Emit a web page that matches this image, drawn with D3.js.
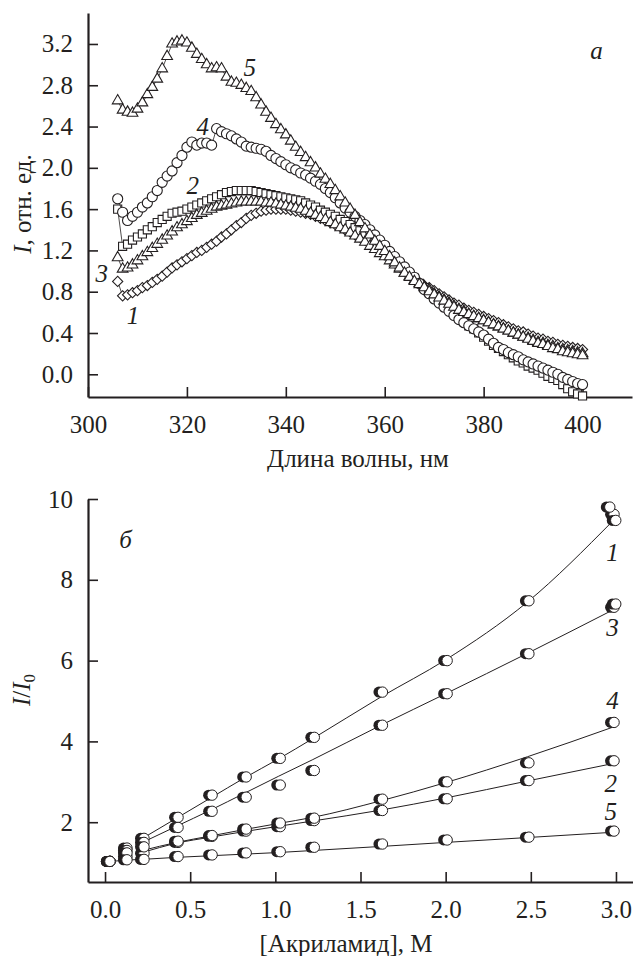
<!DOCTYPE html>
<html>
<head>
<meta charset="utf-8">
<script src="https://cdn.jsdelivr.net/npm/d3@7"></script>
<style>
  body { margin: 0; background: #fff; }
  svg text { font-family: "Liberation Serif", "Times New Roman", serif; fill: #231f20; }
</style>
</head>
<body>
<div id="chart"></div>
<script>
// ---- panel a: emission spectra, 306..400 nm, 1 nm step ----
const wavelengths = d3.range(306, 401);

const spec1 = [
  0.90, 0.76, 0.77, 0.79, 0.81, 0.84, 0.86, 0.89, 0.92, 0.95,
  0.99, 1.03, 1.06, 1.09, 1.12, 1.15, 1.18, 1.20, 1.23, 1.26,
  1.29, 1.33, 1.36, 1.40, 1.44, 1.47, 1.51, 1.54, 1.56, 1.58,
  1.59, 1.60, 1.60, 1.60, 1.60, 1.59, 1.58, 1.57, 1.56, 1.55,
  1.53, 1.51, 1.49, 1.47, 1.45, 1.43, 1.40, 1.38, 1.35, 1.33,
  1.30, 1.26, 1.23, 1.20, 1.16, 1.12, 1.08, 1.04, 1.00, 0.96,
  0.93, 0.89, 0.86, 0.84, 0.81, 0.78, 0.75, 0.72, 0.69, 0.67,
  0.64, 0.62, 0.60, 0.58, 0.56, 0.54, 0.52, 0.50, 0.48, 0.46,
  0.44, 0.42, 0.41, 0.39, 0.37, 0.35, 0.34, 0.32, 0.31, 0.29,
  0.28, 0.27, 0.26, 0.25, 0.24
];
const spec2 = [
  1.60, 1.24, 1.26, 1.30, 1.33, 1.36, 1.40, 1.43, 1.47, 1.50,
  1.53, 1.56, 1.57, 1.58, 1.60, 1.62, 1.64, 1.66, 1.68, 1.70,
  1.72, 1.74, 1.76, 1.77, 1.78, 1.78, 1.78, 1.78, 1.77, 1.76,
  1.75, 1.74, 1.73, 1.72, 1.71, 1.70, 1.69, 1.68, 1.66, 1.64,
  1.62, 1.59, 1.57, 1.55, 1.53, 1.50, 1.48, 1.45, 1.42, 1.39,
  1.36, 1.32, 1.28, 1.24, 1.20, 1.16, 1.12, 1.07, 1.02, 0.97,
  0.93, 0.88, 0.84, 0.79, 0.75, 0.71, 0.67, 0.63, 0.59, 0.55,
  0.51, 0.47, 0.44, 0.40, 0.36, 0.32, 0.28, 0.25, 0.22, 0.19,
  0.16, 0.13, 0.11, 0.08, 0.06, 0.04, 0.01, -0.02, -0.04, -0.06,
  -0.10, -0.14, -0.17, -0.19, -0.21
];
const spec3 = [
  1.13, 1.02, 1.03, 1.06, 1.10, 1.14, 1.18, 1.22, 1.26, 1.30,
  1.34, 1.38, 1.42, 1.45, 1.48, 1.51, 1.54, 1.56, 1.58, 1.60,
  1.62, 1.63, 1.64, 1.65, 1.66, 1.67, 1.67, 1.67, 1.67, 1.67,
  1.66, 1.66, 1.65, 1.64, 1.63, 1.62, 1.61, 1.60, 1.58, 1.56,
  1.54, 1.52, 1.50, 1.47, 1.45, 1.42, 1.40, 1.37, 1.34, 1.31,
  1.28, 1.24, 1.21, 1.17, 1.14, 1.10, 1.06, 1.02, 0.98, 0.95,
  0.91, 0.88, 0.85, 0.82, 0.78, 0.75, 0.72, 0.69, 0.66, 0.63,
  0.61, 0.58, 0.56, 0.54, 0.52, 0.50, 0.48, 0.46, 0.44, 0.42,
  0.40, 0.38, 0.36, 0.35, 0.33, 0.31, 0.30, 0.28, 0.27, 0.25,
  0.24, 0.23, 0.22, 0.21, 0.20
];
const spec4 = [
  1.70, 1.57, 1.49, 1.53, 1.57, 1.62, 1.66, 1.72, 1.78, 1.86,
  1.92, 1.97, 2.05, 2.12, 2.20, 2.25, 2.22, 2.24, 2.24, 2.22,
  2.38, 2.35, 2.33, 2.31, 2.28, 2.25, 2.21, 2.20, 2.19, 2.18,
  2.16, 2.12, 2.09, 2.06, 2.03, 2.00, 1.98, 1.95, 1.93, 1.90,
  1.87, 1.84, 1.80, 1.76, 1.71, 1.66, 1.61, 1.57, 1.53, 1.49,
  1.45, 1.40, 1.35, 1.30, 1.25, 1.19, 1.14, 1.09, 1.04, 0.99,
  0.94, 0.88, 0.82, 0.78, 0.73, 0.69, 0.65, 0.61, 0.57, 0.53,
  0.50, 0.47, 0.44, 0.41, 0.38, 0.34, 0.30, 0.26, 0.24, 0.21,
  0.19, 0.17, 0.14, 0.12, 0.10, 0.08, 0.06, 0.04, 0.02, 0.00,
  -0.03, -0.05, -0.07, -0.09, -0.10
];
const spec5 = [
  2.65, 2.56, 2.54, 2.53, 2.57, 2.63, 2.71, 2.78, 2.86, 2.96,
  3.08, 3.20, 3.22, 3.23, 3.21, 3.16, 3.10, 3.05, 3.00, 2.96,
  2.97, 2.96, 2.88, 2.83, 2.82, 2.80, 2.77, 2.74, 2.68, 2.61,
  2.54, 2.48, 2.42, 2.37, 2.32, 2.26, 2.20, 2.15, 2.10, 2.05,
  2.00, 1.94, 1.89, 1.84, 1.78, 1.72, 1.66, 1.60, 1.54, 1.47,
  1.41, 1.35, 1.29, 1.24, 1.19, 1.14, 1.08, 1.03, 0.98, 0.94,
  0.90, 0.87, 0.84, 0.80, 0.77, 0.74, 0.71, 0.68, 0.65, 0.62,
  0.60, 0.58, 0.56, 0.54, 0.52, 0.50, 0.48, 0.46, 0.44, 0.42,
  0.40, 0.38, 0.36, 0.34, 0.32, 0.30, 0.29, 0.27, 0.25, 0.24,
  0.22, 0.21, 0.20, 0.19, 0.18
];
const xTicksA = [300, 320, 340, 360, 380, 400];
const yTicksA = [0.0, 0.4, 0.8, 1.2, 1.6, 2.0, 2.4, 2.8, 3.2];

// ---- panel б: I/I0 vs acrylamide ----
const conc = [0.02, 0.12, 0.22, 0.42, 0.62, 0.82, 1.02, 1.22, 1.62, 2.0, 2.48, 2.98];
const ratio1 = [1.03, 1.36, 1.60, 2.12, 2.67, 3.12, 3.58, 4.10, 5.22, 6.00, 7.48, 9.62];
const ratio2 = [1.03, 1.15, 1.23, 1.50, 1.65, 1.78, 1.89, 2.04, 2.29, 2.58, 3.03, 3.52];
const ratio3 = [1.03, 1.30, 1.50, 1.87, 2.27, 2.62, 2.92, 3.28, 4.40, 5.18, 6.17, 7.32];
const ratio4 = [1.03, 1.24, 1.39, 1.53, 1.67, 1.83, 1.98, 2.10, 2.57, 3.00, 3.47, 4.47];
const ratio5 = [1.03, 1.07, 1.08, 1.15, 1.19, 1.24, 1.27, 1.38, 1.46, 1.56, 1.63, 1.78];
// extra replicate points at the highest concentration
const repConc = [2.955, 2.99, 2.99];
const repVal = [9.80, 9.47, 7.40];
// fitted curves, null where the line is not drawn
const fit1 = [null, null, 1.60, 2.10, 2.60, 3.10, 3.57, 4.07, 5.10, 6.02, 7.45, 9.45];
const fit2 = [null, null, 1.25, 1.48, 1.63, 1.77, 1.90, 2.03, 2.30, 2.60, 3.02, 3.45];
const fit3 = [null, null, 1.50, 1.90, 2.30, 2.72, 3.14, 3.55, 4.40, 5.18, 6.18, 7.25];
const fit4 = [null, null, 1.30, 1.50, 1.66, 1.82, 1.97, 2.12, 2.53, 2.98, 3.62, 4.35];
const fit5 = [1.02, 1.06, 1.08, 1.13, 1.17, 1.21, 1.25, 1.30, 1.40, 1.50, 1.62, 1.75];
const xTicksB = [0, 0.5, 1, 1.5, 2, 2.5, 3];
const yTicksB = [2, 4, 6, 8, 10];

const INK = '#231f20';
const FONT = 25;

const svg = d3.select('#chart').append('svg')
  .attr('width', 633)
  .attr('height', 956);

function style_axis (g) {
  g.attr('font-family', '"Liberation Serif", serif').attr('font-size', FONT);
  g.select('.domain').attr('stroke', INK).attr('stroke-width', 2.2);
  g.selectAll('.tick line').attr('stroke', INK).attr('stroke-width', 1.6);
  g.selectAll('.tick text').attr('fill', INK);
}

// ================= panel a =================
const xA = d3.scaleLinear().domain([300, 410]).range([88, 632]);
const yA = d3.scaleLinear().domain([-0.22, 3.5]).range([397, 13]);

svg.append('g')
  .attr('transform', 'translate(0, 397)')
  .call(d3.axisBottom(xA).tickValues(xTicksA).tickSizeInner(-10).tickSizeOuter(0).tickPadding(18))
  .call(style_axis);
svg.append('g')
  .attr('transform', 'translate(88, 0)')
  .call(d3.axisLeft(yA).tickValues(yTicksA).tickFormat(d3.format('.1f'))
    .tickSizeInner(-10).tickSizeOuter(0).tickPadding(15))
  .call(style_axis);

const spectra = [
  { values: spec1, symbol: d3.symbolSquare, size: 52, rotate: 45 },
  { values: spec2, symbol: d3.symbolSquare, size: 66, rotate: 0 },
  { values: spec3, symbol: d3.symbolTriangle, size: 50, rotate: 0 },
  { values: spec4, symbol: d3.symbolCircle, size: 80, rotate: 0 },
  { values: spec5, symbol: d3.symbolTriangle, size: 50, rotate: 0 }
];

const lineA = d3.line()
  .x((d) => xA(d[0]))
  .y((d) => yA(d[1]));

spectra.forEach((s) => {
  const pts = wavelengths.map((w, i) => [w, s.values[i]]);
  const g = svg.append('g');
  g.append('path')
    .datum(pts)
    .attr('d', lineA)
    .attr('fill', 'none')
    .attr('stroke', INK)
    .attr('stroke-width', 0.8);
  g.selectAll('path.mark')
    .data(pts)
    .join('path')
    .attr('class', 'mark')
    .attr('d', d3.symbol().type(s.symbol).size(s.size))
    .attr('transform', (d) => `translate(${xA(d[0])}, ${yA(d[1])}) rotate(${s.rotate})`)
    .attr('fill', '#fff')
    .attr('stroke', INK)
    .attr('stroke-width', 1.1);
});

const labelsA = [
  { t: '5', x: 332.7, y: 2.97 },
  { t: '4', x: 323.2, y: 2.40 },
  { t: '2', x: 321.2, y: 1.83 },
  { t: '3', x: 302.8, y: 0.98 },
  { t: '1', x: 309.1, y: 0.57 },
  { t: 'а', x: 402.8, y: 3.14 }
];
svg.append('g').selectAll('text')
  .data(labelsA)
  .join('text')
  .attr('x', (d) => xA(d.x))
  .attr('y', (d) => yA(d.y))
  .attr('dy', '0.35em')
  .attr('text-anchor', 'middle')
  .attr('font-size', FONT)
  .attr('font-style', 'italic')
  .text((d) => d.t);

svg.append('text')
  .attr('x', 358)
  .attr('y', 467)
  .attr('text-anchor', 'middle')
  .attr('font-size', FONT)
  .text('Длина волны, нм');

const ytA = svg.append('text')
  .attr('transform', 'translate(31, 204) rotate(-90)')
  .attr('text-anchor', 'middle')
  .attr('font-size', FONT);
ytA.append('tspan').attr('font-style', 'italic').text('I');
ytA.append('tspan').text(', отн. ед.');

// ================= panel б =================
const xB = d3.scaleLinear().domain([-0.1, 3.1]).range([88, 633]);
const yB = d3.scaleLinear().domain([0.52, 10]).range([882, 499]);

svg.append('g')
  .attr('transform', 'translate(0, 882)')
  .call(d3.axisBottom(xB).tickValues(xTicksB).tickFormat(d3.format('.1f'))
    .tickSizeInner(-10).tickSizeOuter(0).tickPadding(18))
  .call(style_axis);
svg.append('g')
  .attr('transform', 'translate(88, 0)')
  .call(d3.axisLeft(yB).tickValues(yTicksB).tickSizeInner(-10).tickSizeOuter(0).tickPadding(15))
  .call(style_axis);

const fits = [fit1, fit2, fit3, fit4, fit5];
const lineB = d3.line()
  .defined((d) => d[1] != null)
  .curve(d3.curveMonotoneX)
  .x((d) => xB(d[0]))
  .y((d) => yB(d[1]));

fits.forEach((f) => {
  svg.append('path')
    .datum(conc.map((c, i) => [c, f[i]]))
    .attr('d', lineB)
    .attr('fill', 'none')
    .attr('stroke', INK)
    .attr('stroke-width', 1);
});

const ratios = [ratio1, ratio2, ratio3, ratio4, ratio5];
const pointsB = [];
ratios.forEach((r) => conc.forEach((c, i) => pointsB.push([c, r[i]])));
repConc.forEach((c, i) => pointsB.push([c, repVal[i]]));

const markB = svg.append('g').selectAll('g')
  .data(pointsB)
  .join('g')
  .attr('transform', (d) => `translate(${xB(d[0])}, ${yB(d[1])})`);
markB.append('circle')
  .attr('cx', -2)
  .attr('r', 5.5)
  .attr('fill', INK);
markB.append('circle')
  .attr('cx', 1.5)
  .attr('r', 5.2)
  .attr('fill', '#fff')
  .attr('stroke', INK)
  .attr('stroke-width', 1);

const labelsB = [
  { t: '1', x: 2.98, y: 8.67 },
  { t: '3', x: 2.98, y: 6.82 },
  { t: '4', x: 2.98, y: 5.03 },
  { t: '2', x: 2.97, y: 2.97 },
  { t: '5', x: 2.97, y: 2.26 },
  { t: 'б', x: 0.12, y: 9.0 }
];
svg.append('g').selectAll('text')
  .data(labelsB)
  .join('text')
  .attr('x', (d) => xB(d.x))
  .attr('y', (d) => yB(d.y))
  .attr('dy', '0.35em')
  .attr('text-anchor', 'middle')
  .attr('font-size', FONT)
  .attr('font-style', 'italic')
  .text((d) => d.t);

svg.append('text')
  .attr('x', 346)
  .attr('y', 952)
  .attr('text-anchor', 'middle')
  .attr('font-size', FONT)
  .text('[Акриламид], М');

const ytB = svg.append('text')
  .attr('transform', 'translate(30, 690) rotate(-90)')
  .attr('text-anchor', 'middle')
  .attr('font-size', FONT);
ytB.append('tspan').attr('font-style', 'italic').text('I');
ytB.append('tspan').text('/');
ytB.append('tspan').attr('font-style', 'italic').text('I');
ytB.append('tspan').attr('font-size', 17).attr('dy', 5).text('0');
</script>
</body>
</html>
